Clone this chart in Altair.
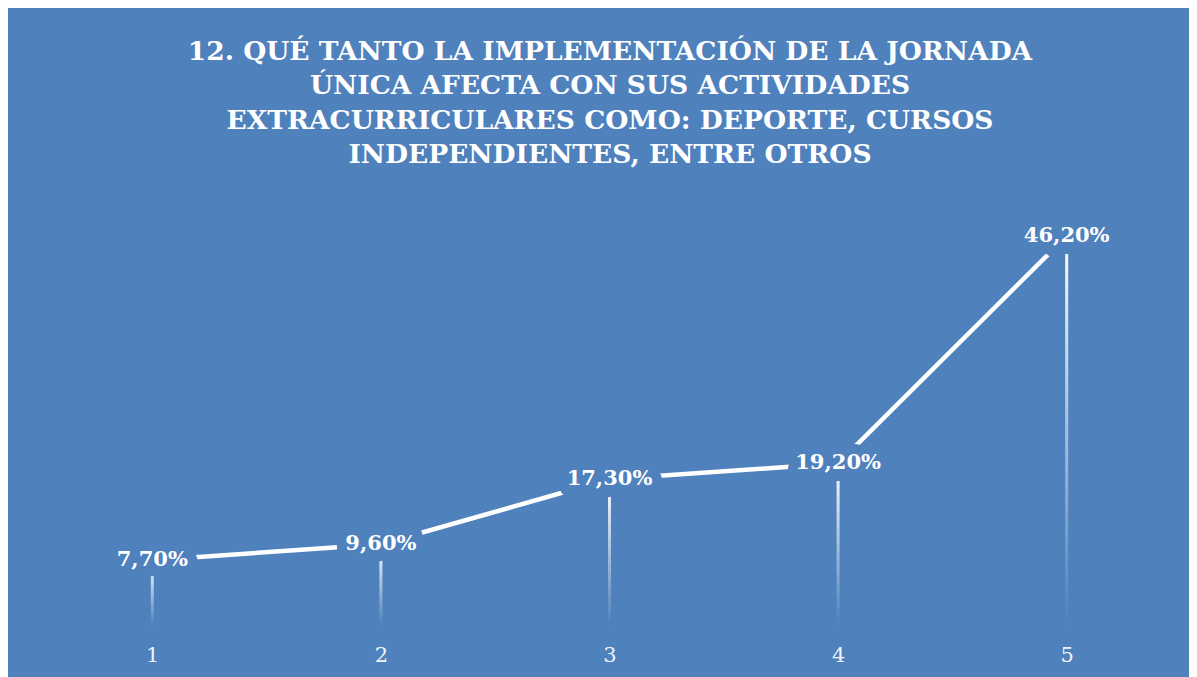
import altair as alt
import pandas as pd

categories = ["1", "2", "3", "4", "5"]
values = [7.7, 9.6, 17.3, 19.2, 46.2]
labels = [f"{v:.2f}".replace(".", ",") + "%" for v in values]
title_lines = [
    "12. QUÉ TANTO LA IMPLEMENTACIÓN DE LA JORNADA",
    "ÚNICA AFECTA CON SUS ACTIVIDADES",
    "EXTRACURRICULARES COMO: DEPORTE, CURSOS",
    "INDEPENDIENTES, ENTRE OTROS",
]

df = pd.DataFrame({"cat": categories, "val": values, "label": labels})

BG = "#4F81BD"
FONT = "DejaVu Serif"

x = alt.X(
    "cat:N",
    sort=categories,
    scale=alt.Scale(type="point", padding=0.5),
    axis=alt.Axis(
        title=None, labelAngle=0, domain=False, ticks=False, grid=False,
        labelFont=FONT, labelFontSize=21, labelColor="#EEF3FA", labelPadding=19,
    ),
)
y = alt.Y("val:Q", scale=alt.Scale(domain=[0, 50]), axis=None)

base = alt.Chart(df).encode(x=x, y=y)

drops = base.mark_bar(
    size=3,
    color=alt.LinearGradient(
        gradient="linear",
        stops=[alt.GradientStop(color="#FFFFFF", offset=0),
               alt.GradientStop(color=BG, offset=1)],
        x1=0, x2=0, y1=0, y2=1,
    ),
)

line = base.mark_line(color="white", strokeWidth=4.5)

mask = base.mark_text(
    font=FONT, fontWeight="bold", fontSize=21, baseline="middle",
    color=BG, stroke=BG, strokeWidth=20, strokeJoin="round",
).encode(text="label:N")

mask_low = base.mark_text(
    font=FONT, fontWeight="bold", fontSize=21, baseline="middle", dy=2,
    color=BG, stroke=BG, strokeWidth=20, strokeJoin="round",
).encode(text="label:N")

text = base.mark_text(
    font=FONT, fontWeight="bold", fontSize=21, baseline="middle", color="white",
).encode(text="label:N")

chart = (
    alt.layer(drops, line, mask, mask_low, text)
    .properties(
        width=1143,
        height=421,
        autosize=alt.AutoSizeParams(type="none"),
        padding={"left": 30, "top": 196, "right": 8, "bottom": 52},
        background=BG,
        title=alt.TitleParams(
            text=title_lines, font=FONT, fontSize=26.5, fontWeight="bold",
            color="white", anchor="middle", lineHeight=34.5, offset=35.5, dx=0.5,
        ),
    )
    .configure_view(stroke=None)
)

chart.save("out.html", embed_options={"renderer": "svg", "actions": False})
